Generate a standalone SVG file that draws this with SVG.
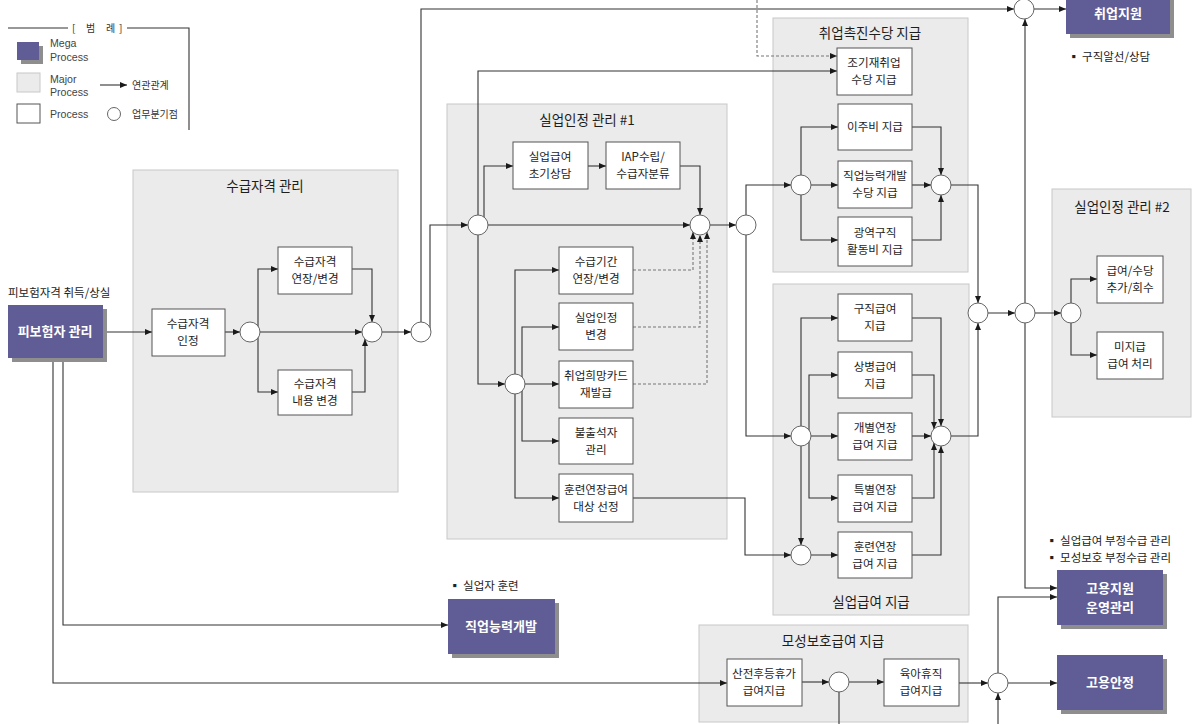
<svg xmlns="http://www.w3.org/2000/svg" width="1196" height="724" viewBox="0 0 1196 724">
<defs>
<marker id="a" viewBox="0 0 7 6" refX="7" refY="3" markerWidth="7" markerHeight="6" orient="auto" markerUnits="userSpaceOnUse"><path d="M0,0 L7,3 L0,6z" fill="#1a1a1a"/></marker>
<style>
.t{font-family:"Noto Sans CJK KR","Noto Sans",sans-serif;font-size:11.6px;fill:#1e1e1e;text-anchor:middle}
.ti{font-family:"Noto Sans CJK KR","Noto Sans",sans-serif;font-size:13.5px;fill:#1e1e1e;text-anchor:middle}
.mt{font-family:"Noto Sans CJK KR","Noto Sans",sans-serif;font-size:13px;font-weight:bold;fill:#fff;text-anchor:middle}
.nt{font-family:"Noto Sans CJK KR","Noto Sans",sans-serif;font-size:11.5px;fill:#222}
.lg{font-family:"Liberation Sans",Arial,sans-serif;font-size:10.6px;fill:#444}
.lk{font-family:"Noto Sans CJK KR",sans-serif;font-size:10px;fill:#333}
.mega{fill:#605c95}
.sh{fill:#8e8e8e}
.major{fill:#ebebeb;stroke:#c8c8c8;stroke-width:1}
.proc{fill:#fff;stroke:#555;stroke-width:1}
.br{fill:#fff;stroke:#666;stroke-width:1}
.ln{fill:none;stroke:#333;stroke-width:1.1}
.dt{fill:none;stroke:#777;stroke-width:1.1;stroke-dasharray:3 2}
</style>
</defs>

<g id="legend">
<path d="M8,28 H68 M127,28 H189 V130" class="ln" stroke="#444"/>
<text x="72" y="32" class="lk" font-size="11">[</text>
<text x="86" y="32" class="lk" font-size="11">범</text>
<text x="106" y="32" class="lk" font-size="11">례</text>
<text x="119" y="32" class="lk" font-size="11">]</text>
<rect x="21" y="46" width="22" height="18" class="sh"/>
<rect x="17" y="42" width="22" height="18" class="mega"/>
<text x="50" y="47" class="lg">Mega<tspan x="50" dy="13.5">Process</tspan></text>
<rect x="17" y="73" width="23" height="19" class="major"/>
<text x="50" y="83" class="lg">Major<tspan x="50" dy="12.5">Process</tspan></text>
<rect x="17" y="104" width="23" height="19" class="proc"/>
<text x="50" y="118" class="lg">Process</text>
<path d="M100,85 H127" class="ln" marker-end="url(#a)"/>
<text x="132" y="89" class="lk">연관관계</text>
<circle cx="114" cy="114" r="6.5" class="br"/>
<text x="132" y="118" class="lk">업무분기점</text>
</g>

<g id="majors">
<g id="m-sugeup"><rect x="133" y="170" width="265" height="322" class="major"/><text x="265" y="191" class="ti">수급자격 관리</text></g>
<g id="m-silup1"><rect x="447" y="104" width="280" height="435" class="major"/><text x="587" y="125" class="ti">실업인정 관리 #1</text></g>
<g id="m-chwiup"><rect x="773" y="18" width="195" height="254" class="major"/><text x="870" y="38" class="ti">취업촉진수당 지급</text></g>
<g id="m-silupgeup"><rect x="773" y="284" width="196" height="331" class="major"/><text x="871" y="607" class="ti">실업급여 지급</text></g>
<g id="m-silup2"><rect x="1052" y="189" width="139" height="228" class="major"/><text x="1122" y="212" class="ti">실업인정 관리 #2</text></g>
<g id="m-mosung"><rect x="699" y="625" width="269" height="97" class="major"/><text x="833" y="646" class="ti">모성보호급여 지급</text></g>
</g>

<g id="connectors">
<path d="M103,332 H152" class="ln" marker-end="url(#a)"/>
<path d="M225,332 H240" class="ln" marker-end="url(#a)"/>
<path d="M258,332 V269 H278" class="ln" marker-end="url(#a)"/>
<path d="M258,332 V392 H278" class="ln" marker-end="url(#a)"/>
<path d="M250,332 H362" class="ln" marker-end="url(#a)"/>
<path d="M352,269 H372 V322" class="ln" marker-end="url(#a)"/>
<path d="M352,392 H365 V339" class="ln" marker-end="url(#a)"/>
<path d="M372,332 H411" class="ln" marker-end="url(#a)"/>
<path d="M421,332 V9 H1014" class="ln" marker-end="url(#a)"/>
<path d="M430,332 V225 H468" class="ln" marker-end="url(#a)"/>
<path d="M478,225 V71 H837" class="ln" marker-end="url(#a)"/>
<path d="M757,0 V56 H837" class="dt" marker-end="url(#a)"/>
<path d="M484,225 V166 H513" class="ln" marker-end="url(#a)"/>
<path d="M588,166 H606" class="ln" marker-end="url(#a)"/>
<path d="M680,166 H700 V215" class="ln" marker-end="url(#a)"/>
<path d="M478,225 H690" class="ln" marker-end="url(#a)"/>
<path d="M478,225 V384 H505" class="ln" marker-end="url(#a)"/>
<path d="M515,384 V270 H559" class="ln" marker-end="url(#a)"/>
<path d="M522,384 V327 H559" class="ln" marker-end="url(#a)"/>
<path d="M515,384 H559" class="ln" marker-end="url(#a)"/>
<path d="M522,384 V441 H559" class="ln" marker-end="url(#a)"/>
<path d="M515,384 V498 H559" class="ln" marker-end="url(#a)"/>
<path d="M633,270 H693 V232" class="dt" marker-end="url(#a)"/>
<path d="M633,327 H700 V235" class="dt" marker-end="url(#a)"/>
<path d="M633,384 H707 V232" class="dt" marker-end="url(#a)"/>
<path d="M700,225 H736" class="ln" marker-end="url(#a)"/>
<path d="M746,225 V185 H791" class="ln" marker-end="url(#a)"/>
<path d="M746,225 V436 H791" class="ln" marker-end="url(#a)"/>
<path d="M633,498 H745 V555 H791" class="ln" marker-end="url(#a)"/>
<path d="M801,185 V127 H838" class="ln" marker-end="url(#a)"/>
<path d="M801,185 H838" class="ln" marker-end="url(#a)"/>
<path d="M801,185 V240 H838" class="ln" marker-end="url(#a)"/>
<path d="M912,127 H941 V175" class="ln" marker-end="url(#a)"/>
<path d="M912,185 H931" class="ln" marker-end="url(#a)"/>
<path d="M912,240 H941 V195" class="ln" marker-end="url(#a)"/>
<path d="M941,185 H978 V303" class="ln" marker-end="url(#a)"/>
<path d="M801,436 V318 H838" class="ln" marker-end="url(#a)"/>
<path d="M809,436 V375 H838" class="ln" marker-end="url(#a)"/>
<path d="M801,436 H838" class="ln" marker-end="url(#a)"/>
<path d="M809,436 V498 H838" class="ln" marker-end="url(#a)"/>
<path d="M801,436 V545" class="ln" marker-end="url(#a)"/>
<path d="M801,555 H838" class="ln" marker-end="url(#a)"/>
<path d="M912,318 H941 V426" class="ln" marker-end="url(#a)"/>
<path d="M912,375 H934 V429" class="ln" marker-end="url(#a)"/>
<path d="M912,436 H931" class="ln" marker-end="url(#a)"/>
<path d="M912,498 H934 V443" class="ln" marker-end="url(#a)"/>
<path d="M912,555 H941 V446" class="ln" marker-end="url(#a)"/>
<path d="M941,436 H978 V323" class="ln" marker-end="url(#a)"/>
<path d="M978,313 H1015" class="ln" marker-end="url(#a)"/>
<path d="M1025,313 H1061" class="ln" marker-end="url(#a)"/>
<path d="M1025,313 V19" class="ln" marker-end="url(#a)"/>
<path d="M1025,313 V588 H1057" class="ln" marker-end="url(#a)"/>
<path d="M1071,313 V279 H1097" class="ln" marker-end="url(#a)"/>
<path d="M1071,313 V355 H1097" class="ln" marker-end="url(#a)"/>
<path d="M1024,9 H1066" class="ln" marker-end="url(#a)"/>
<path d="M63,358 V625 H448" class="ln" marker-end="url(#a)"/>
<path d="M53,358 V683 H727" class="ln" marker-end="url(#a)"/>
<path d="M802,682 H829" class="ln" marker-end="url(#a)"/>
<path d="M839,682 H884" class="ln" marker-end="url(#a)"/>
<path d="M839,682 V724" class="ln"/>
<path d="M959,683 H988" class="ln" marker-end="url(#a)"/>
<path d="M998,683 H1057" class="ln" marker-end="url(#a)"/>
<path d="M998,683 V597 H1057" class="ln" marker-end="url(#a)"/>
<path d="M998,724 V693" class="ln" marker-end="url(#a)"/>
</g>

<g id="n-pibohum"><text x="8" y="297" class="nt" font-size="12">피보험자격 취득/상실</text><rect x="12" y="309" width="95" height="53" class="sh"/><rect x="8" y="305" width="95" height="53" class="mega"/><text x="55" y="336" class="mt">피보험자 관리</text></g>
<g id="n-chwiupjiwon"><rect x="1070" y="-6" width="104" height="44" class="sh"/><rect x="1066" y="-10" width="104" height="44" class="mega"/><text x="1118" y="18" class="mt">취업지원</text><text x="1068" y="61" class="nt">▪ 구직알선/상담</text></g>
<g id="n-jikup"><text x="449" y="590" class="nt">▪ 실업자 훈련</text><rect x="452" y="603" width="107" height="55" class="sh"/><rect x="448" y="599" width="107" height="55" class="mega"/><text x="501" y="631" class="mt">직업능력개발</text></g>
<g id="n-goyongjiwon"><text x="1046" y="545" class="nt">▪ 실업급여 부정수급 관리<tspan x="1046" dy="17">▪ 모성보호 부정수급 관리</tspan></text><rect x="1061" y="574" width="106" height="55" class="sh"/><rect x="1057" y="570" width="106" height="55" class="mega"/><text x="1110" y="593" class="mt">고용지원<tspan x="1110" dy="19">운영관리</tspan></text></g>
<g id="n-goyonganjung"><rect x="1061" y="659" width="106" height="55" class="sh"/><rect x="1057" y="655" width="106" height="55" class="mega"/><text x="1110" y="687" class="mt">고용안정</text></g>

<g id="n-p1"><rect x="152" y="309" width="73" height="47" class="proc"/><text x="188" y="328" class="t">수급자격<tspan x="188" dy="16.8">인정</tspan></text></g>
<g id="n-p2"><rect x="278" y="247" width="74" height="47" class="proc"/><text x="315" y="266" class="t">수급자격<tspan x="315" dy="16.8">연장/변경</tspan></text></g>
<g id="n-p3"><rect x="278" y="370" width="74" height="45" class="proc"/><text x="315" y="388" class="t">수급자격<tspan x="315" dy="16.8">내용 변경</tspan></text></g>
<g id="n-p4"><rect x="513" y="142" width="75" height="47" class="proc"/><text x="550" y="161" class="t">실업급여<tspan x="550" dy="16.8">초기상담</tspan></text></g>
<g id="n-p5"><rect x="606" y="142" width="74" height="47" class="proc"/><text x="643" y="161" class="t">IAP수립/<tspan x="643" dy="16.8">수급자분류</tspan></text></g>
<g id="n-p6"><rect x="559" y="247" width="74" height="47" class="proc"/><text x="596" y="266" class="t">수급기간<tspan x="596" dy="16.8">연장/변경</tspan></text></g>
<g id="n-p7"><rect x="559" y="303" width="74" height="47" class="proc"/><text x="596" y="322" class="t">실업인정<tspan x="596" dy="16.8">변경</tspan></text></g>
<g id="n-p8"><rect x="559" y="361" width="74" height="47" class="proc"/><text x="596" y="380" class="t">취업희망카드<tspan x="596" dy="16.8">재발급</tspan></text></g>
<g id="n-p9"><rect x="559" y="418" width="74" height="46" class="proc"/><text x="596" y="437" class="t">불출석자<tspan x="596" dy="16.8">관리</tspan></text></g>
<g id="n-p10"><rect x="559" y="474" width="74" height="48" class="proc"/><text x="596" y="494" class="t">훈련연장급여<tspan x="596" dy="16.8">대상 선정</tspan></text></g>
<g id="n-p11"><rect x="837" y="48" width="75" height="47" class="proc"/><text x="874" y="67" class="t">조기재취업<tspan x="874" dy="16.8">수당 지급</tspan></text></g>
<g id="n-p12"><rect x="838" y="104" width="74" height="46" class="proc"/><text x="875" y="131" class="t">이주비 지급</text></g>
<g id="n-p13"><rect x="838" y="161" width="74" height="47" class="proc"/><text x="875" y="180" class="t">직업능력개발<tspan x="875" dy="16.8">수당 지급</tspan></text></g>
<g id="n-p14"><rect x="838" y="217" width="74" height="49" class="proc"/><text x="875" y="237" class="t">광역구직<tspan x="875" dy="16.8">활동비 지급</tspan></text></g>
<g id="n-p15"><rect x="838" y="294" width="74" height="47" class="proc"/><text x="875" y="313" class="t">구직급여<tspan x="875" dy="16.8">지급</tspan></text></g>
<g id="n-p16"><rect x="838" y="352" width="74" height="46" class="proc"/><text x="875" y="371" class="t">상병급여<tspan x="875" dy="16.8">지급</tspan></text></g>
<g id="n-p17"><rect x="838" y="413" width="74" height="47" class="proc"/><text x="875" y="432" class="t">개별연장<tspan x="875" dy="16.8">급여 지급</tspan></text></g>
<g id="n-p18"><rect x="838" y="475" width="74" height="47" class="proc"/><text x="875" y="494" class="t">특별연장<tspan x="875" dy="16.8">급여 지급</tspan></text></g>
<g id="n-p19"><rect x="838" y="532" width="74" height="46" class="proc"/><text x="875" y="551" class="t">훈련연장<tspan x="875" dy="16.8">급여 지급</tspan></text></g>
<g id="n-p20"><rect x="1097" y="256" width="66" height="47" class="proc"/><text x="1130" y="275" class="t">급여/수당<tspan x="1130" dy="16.8">추가/회수</tspan></text></g>
<g id="n-p21"><rect x="1097" y="332" width="66" height="47" class="proc"/><text x="1130" y="351" class="t">미지급<tspan x="1130" dy="16.8">급여 처리</tspan></text></g>
<g id="n-p22"><rect x="727" y="659" width="75" height="47" class="proc"/><text x="764" y="678" class="t">산전후등휴가<tspan x="764" dy="16.8">급여지급</tspan></text></g>
<g id="n-p23"><rect x="884" y="659" width="75" height="47" class="proc"/><text x="921" y="678" class="t">육아휴직<tspan x="921" dy="16.8">급여지급</tspan></text></g>

<g id="branches">
<circle id="c1" cx="250" cy="332" r="10" class="br"/>
<circle id="c2" cx="372" cy="332" r="10" class="br"/>
<circle id="c3" cx="421" cy="332" r="10" class="br"/>
<circle id="c4" cx="478" cy="225" r="10" class="br"/>
<circle id="c5" cx="700" cy="225" r="10" class="br"/>
<circle id="c6" cx="746" cy="225" r="10" class="br"/>
<circle id="c7" cx="515" cy="384" r="10" class="br"/>
<circle id="c8" cx="801" cy="185" r="10" class="br"/>
<circle id="c9" cx="941" cy="185" r="10" class="br"/>
<circle id="c10" cx="801" cy="436" r="10" class="br"/>
<circle id="c11" cx="801" cy="555" r="10" class="br"/>
<circle id="c12" cx="941" cy="436" r="10" class="br"/>
<circle id="c13" cx="978" cy="313" r="10" class="br"/>
<circle id="c14" cx="1025" cy="313" r="10" class="br"/>
<circle id="c15" cx="1071" cy="313" r="10" class="br"/>
<circle id="c16" cx="1024" cy="9" r="10" class="br"/>
<circle id="c17" cx="839" cy="682" r="10" class="br"/>
<circle id="c18" cx="998" cy="683" r="10" class="br"/>
</g>
</svg>
